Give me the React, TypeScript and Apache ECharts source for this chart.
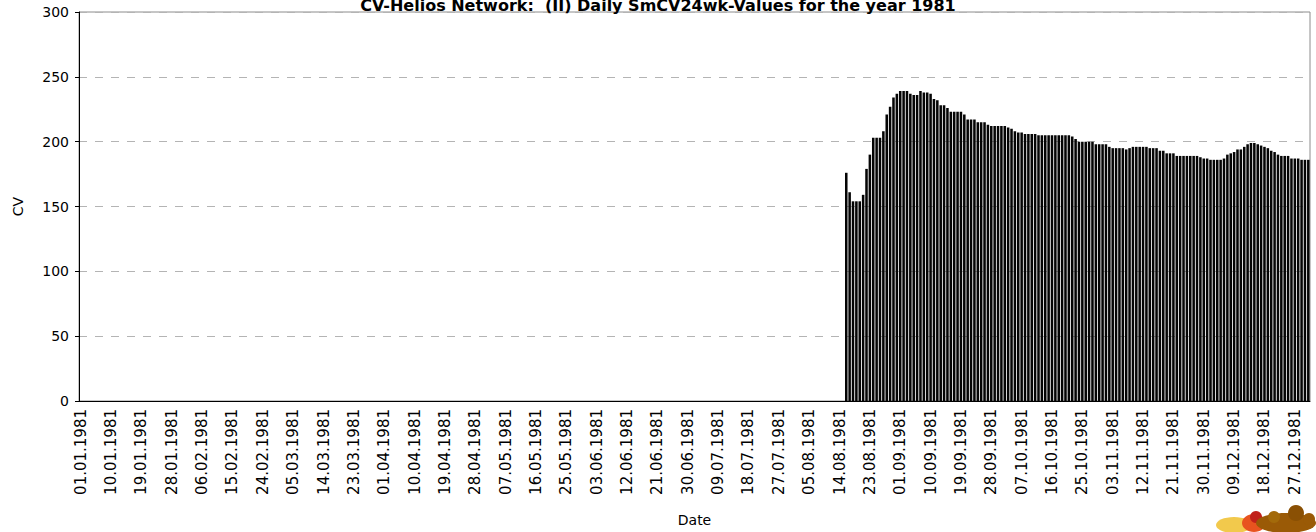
import React, { useEffect, useRef } from "react";
import * as echarts from "echarts";

const YEAR = 1981;
const monthLengths = [31, 28, 31, 30, 31, 30, 31, 31, 30, 31, 30, 31];
const categories: string[] = [];
monthLengths.forEach((len, m) => {
  for (let d = 1; d <= len; d++) {
    categories.push(
      `${String(d).padStart(2, "0")}.${String(m + 1).padStart(2, "0")}.${YEAR}`
    );
  }
});

const firstDataDate = "16.08.1981";
const smcvValues = [
  176, 161, 154, 154, 154, 159, 179, 190, 203, 203,
  203, 208, 221, 227, 234, 237, 239, 239, 239, 237,
  236, 236, 239, 238, 238, 237, 233, 232, 228, 228,
  226, 223, 223, 223, 223, 221, 217, 217, 217, 215,
  215, 215, 213, 212, 212, 212, 212, 212, 211, 210,
  208, 207, 207, 206, 206, 206, 206, 205, 205, 205,
  205, 205, 205, 205, 205, 205, 205, 204, 202, 200,
  200, 200, 200, 200, 198, 198, 198, 198, 196, 195,
  195, 195, 195, 194, 195, 196, 196, 196, 196, 196,
  195, 195, 195, 193, 193, 191, 191, 191, 189, 189,
  189, 189, 189, 189, 189, 188, 187, 187, 186, 186,
  186, 186, 187, 190, 191, 192, 194, 194, 196, 198,
  199, 199, 198, 197, 196, 195, 193, 192, 190, 189,
  189, 189, 187, 187, 187, 186, 186, 186,
];

const yTicks = { min: 0, max: 300, interval: 50 };
const titleText = "CV-Helios Network:  (II) Daily SmCV24wk-Values for the year 1981";

export default function App() {
  const ref = useRef<HTMLDivElement>(null);
  useEffect(() => {
    if (!ref.current) return;
    const chart = echarts.init(ref.current, null, { renderer: "svg" });
    const startIdx = categories.indexOf(firstDataDate);
    const data = categories.map((_, i) =>
      i >= startIdx && i - startIdx < smcvValues.length ? smcvValues[i - startIdx] : null
    );
    const font = "'DejaVu Sans', Verdana, sans-serif";
    chart.setOption({
      animation: false,
      backgroundColor: "#ffffff",
      textStyle: { fontFamily: font },
      title: {
        text: titleText,
        left: "center",
        top: -3,
        padding: 0,
        textStyle: { fontSize: 16, fontWeight: "bold", color: "#000", fontFamily: font },
      },
      grid: {
        left: 79,
        right: 6,
        top: 12,
        bottom: 130,
        show: true,
        borderColor: "#8c8c8c",
        borderWidth: 1,
        backgroundColor: "#ffffff",
      },
      xAxis: {
        type: "category",
        data: categories,
        boundaryGap: true,
        name: "Date",
        nameLocation: "middle",
        nameGap: 112,
        nameTextStyle: { fontSize: 14, color: "#000", fontFamily: font },
        axisLine: { lineStyle: { color: "#000", width: 1 } },
        axisTick: { interval: 0, length: 4, lineStyle: { color: "#000" } },
        axisLabel: {
          interval: 8,
          rotate: 90,
          fontSize: 15,
          color: "#000",
          margin: 8,
          fontFamily: font,
        },
        splitLine: { show: false },
      },
      yAxis: {
        type: "value",
        min: yTicks.min,
        max: yTicks.max,
        interval: yTicks.interval,
        name: "CV",
        nameLocation: "middle",
        nameGap: 54,
        nameRotate: 90,
        nameTextStyle: { fontSize: 14, color: "#000", fontFamily: font },
        axisLine: { show: true, lineStyle: { color: "#000", width: 1 } },
        axisTick: { show: true, length: 4, lineStyle: { color: "#000" } },
        axisLabel: { fontSize: 14, color: "#000", margin: 10, fontFamily: font },
        splitLine: {
          show: true,
          lineStyle: { color: "#b4b4b4", type: [8, 8], width: 1 },
        },
      },
      series: [
        {
          type: "bar",
          data,
          barCategoryGap: "25%",
          itemStyle: { color: "#050505" },
          emphasis: { disabled: true },
        },
      ],
      graphic: [
        {
          type: "group",
          left: 1216,
          top: 505,
          children: [
            { type: "ellipse", shape: { cx: 20, cy: 22, rx: 18, ry: 8 }, style: { fill: "#f2c94c" } },
            { type: "ellipse", shape: { cx: 40, cy: 20, rx: 12, ry: 9 }, style: { fill: "#e8531f" } },
            { type: "circle", shape: { cx: 42, cy: 14, r: 6 }, style: { fill: "#c0201a" } },
            { type: "ellipse", shape: { cx: 72, cy: 20, rx: 30, ry: 10 }, style: { fill: "#9a5a06" } },
            { type: "circle", shape: { cx: 82, cy: 10, r: 8 }, style: { fill: "#8a5004" } },
            { type: "circle", shape: { cx: 60, cy: 14, r: 6 }, style: { fill: "#a36a0a" } },
            { type: "circle", shape: { cx: 95, cy: 16, r: 6 }, style: { fill: "#9a5a06" } },
          ],
        },
      ],
    });
    return () => chart.dispose();
  }, []);
  return (
    <div
      ref={ref}
      style={{ position: "absolute", left: 0, top: 0, width: 1316, height: 532 }}
    />
  );
}
